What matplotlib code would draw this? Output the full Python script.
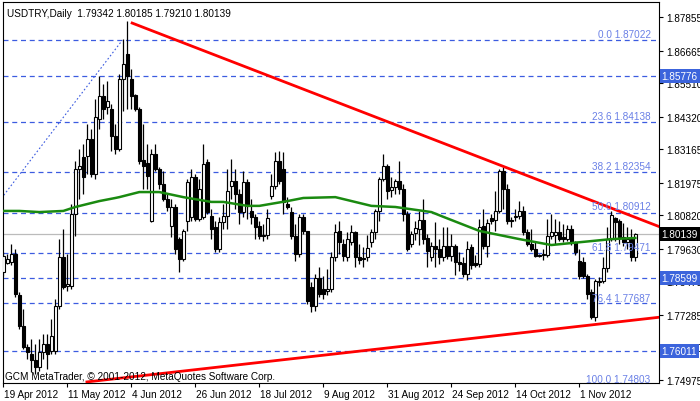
import matplotlib
matplotlib.use("Agg")
import matplotlib.pyplot as plt
import matplotlib.transforms as mtransforms

# ---------------- data ----------------
opens = [1.7880,1.7912,1.7916,1.7944,1.7799,1.7689,1.7614,1.7589,1.7568,1.7543,
         1.7596,1.7625,1.7600,1.7600,1.7759,1.7934,1.7830,1.7830,1.8086,1.8246,
         1.8288,1.8292,1.8352,1.8228,1.8423,1.8505,1.8466,1.8459,1.8363,1.8317,
         1.8565,1.8654,1.8565,1.8509,1.8459,1.8278,1.8267,1.8061,1.8299,1.8246,
         1.8193,1.8139,1.8044,1.8111,1.7997,1.7926,1.8061,1.8076,1.8218,1.8068,
         1.8076,1.8271,1.8079,1.8040,1.7962,1.8058,1.8079,1.8186,1.8203,1.8157,
         1.8093,1.8200,1.8097,1.8076,1.8044,1.8012,1.8012,1.8150,1.8186,1.8274,
         1.8246,1.8122,1.8093,1.8008,1.7944,1.8076,1.8026,1.7827,1.7759,1.7859,
         1.7820,1.7813,1.7820,1.7934,1.8026,1.7980,1.7934,1.7987,1.8022,1.7934,
         1.7930,1.7934,1.7987,1.8022,1.8097,1.8210,1.8257,1.8171,1.8182,1.8203,
         1.8175,1.8086,1.7980,1.8019,1.8033,1.8065,1.8001,1.7934,1.7973,1.7962,
         1.7934,1.7973,1.7937,1.7973,1.7916,1.7912,1.7873,1.7969,1.7912,1.7909,
         1.8044,1.7973,1.8072,1.8065,1.8097,1.8239,1.8175,1.8065,1.8076,1.8079,
         1.8097,1.8022,1.7980,1.7962,1.7941,1.7941,1.7941,1.8008,1.8012,1.8022,
         1.8004,1.7997,1.8033,1.7987,1.7919,1.7916,1.7866,1.7809,1.7720,1.7845,
         1.7848,1.7894,1.7997,1.8072,1.8061,1.8004,1.7987,1.7997,1.79342]
closes = [1.7937,1.7926,1.7944,1.7802,1.7689,1.7614,1.7596,1.7568,1.7543,1.7596,
          1.7625,1.7589,1.7653,1.7759,1.7934,1.7827,1.7838,1.8086,1.8246,1.8257,
          1.8218,1.8352,1.8228,1.8430,1.8505,1.8459,1.8487,1.8363,1.8317,1.8565,
          1.8619,1.8576,1.8505,1.8459,1.8274,1.8257,1.8221,1.8299,1.8246,1.8193,
          1.8139,1.8111,1.8111,1.7962,1.7926,1.8026,1.8200,1.8218,1.8068,1.8175,
          1.8264,1.8093,1.8033,1.7962,1.8058,1.8079,1.8168,1.8203,1.8157,1.8093,
          1.8200,1.8115,1.8076,1.8040,1.8008,1.8008,1.8072,1.8186,1.8274,1.8203,
          1.8129,1.8111,1.8008,1.7944,1.8076,1.8026,1.7777,1.7759,1.7859,1.7802,
          1.7802,1.7820,1.7934,1.8022,1.7987,1.7937,1.7997,1.8022,1.7934,1.7923,
          1.7926,1.7966,1.8022,1.8097,1.8210,1.8257,1.8168,1.8182,1.8203,1.8175,
          1.8086,1.7962,1.8015,1.8036,1.8065,1.7997,1.7955,1.7973,1.7962,1.7934,
          1.7973,1.7937,1.7973,1.7916,1.7909,1.7873,1.7962,1.7905,1.7905,1.8040,
          1.7973,1.8054,1.8061,1.8097,1.8239,1.8175,1.8061,1.8061,1.8079,1.8097,
          1.8022,1.7980,1.7962,1.7937,1.7937,1.7944,1.8008,1.8022,1.8022,1.7997,
          1.7997,1.8033,1.7987,1.7951,1.7866,1.7866,1.7802,1.7720,1.7848,1.7848,
          1.7894,1.7997,1.8083,1.8058,1.8004,1.7987,1.7997,1.7934,1.80139]
highs = [1.7951,1.7944,1.7980,1.7962,1.7809,1.7749,1.7625,1.7642,1.7625,1.7642,
         1.7660,1.7660,1.7713,1.7784,1.7997,1.8033,1.7944,1.8122,1.8274,1.8317,
         1.8335,1.8405,1.8388,1.8494,1.8576,1.8548,1.8558,1.8477,1.8405,1.8583,
         1.8707,1.8771,1.8601,1.8512,1.8466,1.8405,1.8335,1.8317,1.8335,1.8253,
         1.8239,1.8157,1.8139,1.8122,1.8004,1.8033,1.8210,1.8246,1.8228,1.8210,
         1.8335,1.8281,1.8104,1.8061,1.8076,1.8122,1.8246,1.8281,1.8246,1.8175,
         1.8239,1.8210,1.8139,1.8086,1.8061,1.8051,1.8104,1.8228,1.8306,1.8310,
         1.8306,1.8146,1.8111,1.8051,1.8086,1.8086,1.8026,1.7845,1.7873,1.7898,
         1.7866,1.7891,1.7951,1.8051,1.8061,1.7997,1.8022,1.8047,1.8026,1.7980,
         1.7969,1.8012,1.8033,1.8104,1.8218,1.8299,1.8264,1.8218,1.8210,1.8274,
         1.8193,1.8097,1.8026,1.8061,1.8097,1.8139,1.8015,1.7987,1.8058,1.7997,
         1.8040,1.8040,1.8015,1.7980,1.7951,1.7934,1.7990,1.7980,1.7941,1.8068,
         1.8104,1.8068,1.8086,1.8168,1.8246,1.8253,1.8193,1.8076,1.8104,1.8132,
         1.8115,1.8033,1.8033,1.7990,1.7944,1.7962,1.8068,1.8086,1.8068,1.8061,
         1.8051,1.8047,1.8047,1.7990,1.7962,1.7934,1.7873,1.7820,1.7855,1.7863,
         1.7934,1.8040,1.8097,1.8076,1.8068,1.8054,1.8040,1.8033,1.80185]
lows = [1.7866,1.7909,1.7905,1.7792,1.7678,1.7607,1.7571,1.7525,1.7518,1.7529,
        1.7571,1.7536,1.7589,1.7589,1.7749,1.7820,1.7813,1.7820,1.8008,1.8139,
        1.8157,1.8228,1.8218,1.8210,1.8388,1.8423,1.8441,1.8310,1.8299,1.8310,
        1.8452,1.8459,1.8459,1.8452,1.8264,1.8175,1.8175,1.8058,1.8239,1.8175,
        1.8132,1.8097,1.8004,1.7944,1.7880,1.7919,1.8026,1.8061,1.8061,1.8061,
        1.8068,1.8086,1.7997,1.7951,1.7951,1.8033,1.8033,1.8139,1.8104,1.8051,
        1.8076,1.8068,1.8051,1.7997,1.7997,1.7990,1.7997,1.8139,1.8175,1.8193,
        1.8086,1.8104,1.7997,1.7919,1.7934,1.8015,1.7767,1.7738,1.7742,1.7792,
        1.7784,1.7799,1.7809,1.7919,1.7944,1.7919,1.7919,1.7976,1.7898,1.7909,
        1.7898,1.7919,1.7969,1.7997,1.8061,1.8203,1.8139,1.8146,1.8157,1.8157,
        1.8061,1.7955,1.7969,1.7994,1.7976,1.7980,1.7898,1.7919,1.7898,1.7909,
        1.7919,1.7926,1.7919,1.7870,1.7884,1.7863,1.7852,1.7891,1.7898,1.7898,
        1.7962,1.7934,1.8051,1.8026,1.8090,1.8104,1.8051,1.8040,1.8061,1.8068,
        1.8012,1.7973,1.7955,1.7934,1.7934,1.7923,1.7934,1.7997,1.7980,1.7990,
        1.7987,1.7990,1.7976,1.7941,1.7855,1.7859,1.7784,1.7713,1.7706,1.7830,
        1.7841,1.7880,1.7990,1.7990,1.7980,1.7973,1.7962,1.7919,1.79210]

ma_idx = [0, 4, 9, 15, 18, 24, 28, 29, 34, 39, 45, 52, 55, 61, 64, 71, 75, 83, 92,
          98, 107, 110, 119, 129, 137, 152, 158]
ma_vals = [1.8097,1.8097,1.8093,1.8097,1.8111,1.8132,1.8143,1.8146,1.8164,1.8164,
           1.8146,1.8129,1.8129,1.8115,1.8115,1.8132,1.8143,1.8146,1.8115,1.8111,
           1.8093,1.8076,1.8026,1.7997,1.7976,1.7997,1.8001]

upper_trend = ([32.2, 164.2], [1.8764, 1.8040])
lower_trend = ([20.9, 164.2], [1.7490, 1.7720])
fibo_diag = ([-36.1, 29.7], [1.74803, 1.87022])

fibo_pct = ["0.0", "23.6", "38.2", "50.0", "61.8", "76,4", "100.0"]
fibo_levels = [1.87022, 1.84138, 1.82354, 1.80912, 1.79471, 1.77687, 1.74803]
hlines = [1.85776, 1.78599, 1.76011]
last_price = 1.80139

yticks = [1.87855, 1.86665, 1.85510, 1.84320, 1.83165, 1.81975, 1.80820,
          1.79630, 1.78475, 1.77285, 1.76130, 1.74975]
xtick_idx = [0, 16, 32, 48, 64, 80, 96, 112, 128, 144]
xtick_labels = ["19 Apr 2012", "11 May 2012", "4 Jun 2012", "26 Jun 2012",
                "18 Jul 2012", "9 Aug 2012", "31 Aug 2012", "24 Sep 2012",
                "14 Oct 2012", "1 Nov 2012"]

# ---------------- figure ----------------
plt.rcParams["font.family"] = ["Liberation Sans", "DejaVu Sans"]
W, H = 700, 402
fig = plt.figure(figsize=(W / 100, H / 100), dpi=100)
ax = fig.add_axes([3 / W, (H - 384) / H, 656 / W, 381 / H])
ax.set_xlim(-0.075, 163.9)
ax.set_ylim(1.74862, 1.88387)
FS = 7.2
BLUE = "#3c5ce0"
LBLUE = "#6a80e6"

for lv, pc in zip(fibo_levels, fibo_pct):
    ax.axhline(lv, color=BLUE, lw=0.9, ls=(0, (4, 3)), zorder=1)
    ax.text(161.8, lv + 0.0004, f"{pc} {lv:.5f}", color=LBLUE, fontsize=FS,
            ha="right", va="bottom", zorder=6)
for lv in hlines:
    ax.axhline(lv, color=BLUE, lw=0.9, ls=(0, (4, 3)), zorder=1)
ax.axhline(last_price, color="#bbbbbb", lw=0.9, zorder=1)
ax.plot(fibo_diag[0], fibo_diag[1], color=BLUE, lw=0.8, ls=(0, (1.5, 2)), zorder=1)

n = len(closes)
for i in range(n):
    o, c, h, l = opens[i], closes[i], highs[i], lows[i]
    ax.plot([i, i], [l, h], color="black", lw=0.9, zorder=3, solid_capstyle="butt")
    lo_b, hi_b = min(o, c), max(o, c)
    if hi_b - lo_b < 0.00012:
        ax.plot([i - 0.4, i + 0.4], [c, c], color="black", lw=0.9, zorder=4)
    else:
        fc = "white" if c > o else "black"
        ax.bar(i, hi_b - lo_b, bottom=lo_b, width=0.72, color=fc,
               edgecolor="black", linewidth=0.8, zorder=4)

ax.plot(ma_idx, ma_vals, color="#1a8a10", lw=1.8, zorder=5)

def ext(pts, x_end):
    (x0, x1), (y0, y1) = pts
    s = (y1 - y0) / (x1 - x0)
    return [x0, x_end], [y0, y0 + s * (x_end - x0)]
ux, uy = ext(upper_trend, 170)
lx, ly = ext(lower_trend, 170)
ax.plot(ux, uy, color="#ff0000", lw=2, zorder=5)
ax.plot(lx, ly, color="#ff0000", lw=2, zorder=5)

ax.text(0.006, 0.985, "USDTRY,Daily  1.79342 1.80185 1.79210 1.80139",
        transform=ax.transAxes, fontsize=FS, ha="left", va="top", zorder=7)
ax.text(0.003, 0.006, "GCM MetaTrader, \u00a9 2001-2012, MetaQuotes Software Corp.",
        transform=ax.transAxes, fontsize=FS, ha="left", va="bottom", zorder=7)

for s in ax.spines.values():
    s.set_color("black"); s.set_linewidth(0.8)
ax.yaxis.tick_right()
ax.set_yticks(yticks)
ax.set_yticklabels([f"{v:.5f}" for v in yticks], fontsize=FS)
ax.tick_params(axis="y", length=3, width=0.8, pad=2)
ax.set_xticks(xtick_idx)
ax.set_xticklabels(xtick_labels, fontsize=FS, ha="left")
ax.tick_params(axis="x", length=3, width=0.8, pad=1)
for lab in ax.get_xticklabels():
    lab.set_transform(lab.get_transform() + mtransforms.ScaledTranslation(1 / 100, 0, fig.dpi_scale_trans))

trans = mtransforms.blended_transform_factory(ax.transAxes, ax.transData)
for lv in hlines:
    ax.text(1.004, lv, f"{lv:.5f}", transform=trans, fontsize=FS, color="white",
            ha="left", va="center", zorder=8, clip_on=False,
            bbox=dict(boxstyle="square,pad=0.2", fc="#3c64dc", ec="none"))
ax.text(1.004, last_price, f"{last_price:.5f}", transform=trans, fontsize=FS,
        color="white", ha="left", va="center", zorder=8, clip_on=False,
        bbox=dict(boxstyle="square,pad=0.2", fc="black", ec="none"))

fig.savefig("out.png", dpi=100)
